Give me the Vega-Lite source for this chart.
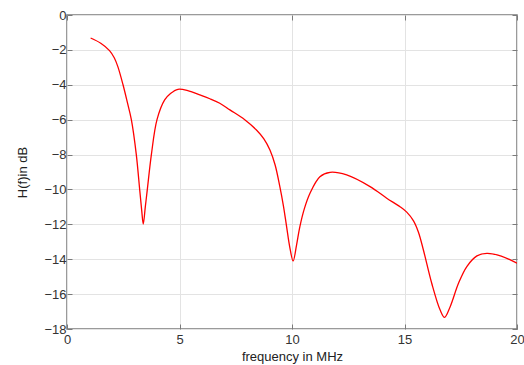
{
  "$schema": "https://vega.github.io/schema/vega-lite/v6.json",
  "width": 450,
  "height": 314,
  "autosize": "none",
  "padding": {"left": 67, "top": 15, "right": 7, "bottom": 36},
  "background": "white",
  "config": {
    "view": {"stroke": "#7a7a7a", "strokeWidth": 1.5},
    "font": "Liberation Sans"
  },
  "data": {"values": [
    {"f": 1.05, "h": -1.32},
    {"f": 1.5, "h": -1.62},
    {"f": 1.89, "h": -2.04},
    {"f": 2.1, "h": -2.45},
    {"f": 2.26, "h": -2.96},
    {"f": 2.49, "h": -4.0},
    {"f": 2.68, "h": -5.0},
    {"f": 2.86, "h": -6.0},
    {"f": 3.08, "h": -8.0},
    {"f": 3.23, "h": -10.0},
    {"f": 3.32, "h": -11.2},
    {"f": 3.39, "h": -11.98},
    {"f": 3.48, "h": -11.0},
    {"f": 3.57, "h": -10.0},
    {"f": 3.75, "h": -8.0},
    {"f": 4.0, "h": -6.0},
    {"f": 4.34, "h": -4.87},
    {"f": 4.6, "h": -4.5},
    {"f": 4.93, "h": -4.26},
    {"f": 5.4, "h": -4.35},
    {"f": 5.9, "h": -4.58},
    {"f": 6.35, "h": -4.8},
    {"f": 6.79, "h": -5.06},
    {"f": 7.24, "h": -5.44},
    {"f": 7.9, "h": -6.0},
    {"f": 8.42, "h": -6.59},
    {"f": 8.75, "h": -7.1},
    {"f": 9.02, "h": -7.74},
    {"f": 9.25, "h": -8.6},
    {"f": 9.46, "h": -9.84},
    {"f": 9.62, "h": -10.95},
    {"f": 9.76, "h": -12.13},
    {"f": 9.9, "h": -13.3},
    {"f": 10.05, "h": -14.1},
    {"f": 10.2, "h": -13.2},
    {"f": 10.35, "h": -12.13},
    {"f": 10.55, "h": -11.1},
    {"f": 10.8, "h": -10.22},
    {"f": 11.24, "h": -9.27},
    {"f": 11.69, "h": -9.02},
    {"f": 12.43, "h": -9.17},
    {"f": 13.47, "h": -9.84},
    {"f": 14.21, "h": -10.5},
    {"f": 14.8, "h": -10.99},
    {"f": 15.1, "h": -11.3},
    {"f": 15.4, "h": -11.8},
    {"f": 15.62, "h": -12.45},
    {"f": 15.84, "h": -13.47},
    {"f": 16.21, "h": -15.38},
    {"f": 16.58, "h": -16.9},
    {"f": 16.78, "h": -17.33},
    {"f": 17.03, "h": -16.72},
    {"f": 17.4, "h": -15.38},
    {"f": 17.77, "h": -14.42},
    {"f": 18.22, "h": -13.81},
    {"f": 18.66, "h": -13.66},
    {"f": 19.3, "h": -13.82},
    {"f": 20.0, "h": -14.23}
  ]},
  "resolve": {"axis": {"x": "independent", "y": "independent"}},
  "layer": [
    {
      "mark": {"type": "line", "color": "#ff0000", "strokeWidth": 1.3, "interpolate": "catmull-rom", "clip": true},
      "encoding": {
        "x": {
          "field": "f", "type": "quantitative",
          "scale": {"domain": [0, 20], "nice": false, "zero": false},
          "axis": {
            "values": [0, 5, 10, 15, 20],
            "title": "frequency in MHz",
            "titleFontSize": 13, "titleFontWeight": "normal", "titleColor": "#222",
            "titlePadding": 4,
            "labelFontSize": 13, "labelColor": "#333",
            "labelPadding": 9,
            "grid": true, "gridColor": "#e3e3e3", "gridWidth": 1,
            "domain": false, "ticks": true, "tickSize": -5, "tickColor": "#7a7a7a",
            "labelFlush": false
          }
        },
        "y": {
          "field": "h", "type": "quantitative",
          "scale": {"domain": [-18, 0], "nice": false, "zero": false},
          "axis": {
            "values": [0, -2, -4, -6, -8, -10, -12, -14, -16, -18],
            "title": "H(f)in dB",
            "titleFontSize": 13, "titleFontWeight": "normal", "titleColor": "#222",
            "titlePadding": 14,
            "labelFontSize": 13, "labelColor": "#333",
            "labelPadding": 6,
            "grid": true, "gridColor": "#e3e3e3", "gridWidth": 1,
            "domain": false, "ticks": true, "tickSize": -5, "tickColor": "#7a7a7a"
          }
        }
      }
    },
    {
      "mark": {"type": "line", "opacity": 0},
      "encoding": {
        "x": {
          "field": "f", "type": "quantitative",
          "scale": {"domain": [0, 20], "nice": false, "zero": false},
          "axis": {"orient": "top", "values": [0, 5, 10, 15, 20], "title": null, "labels": false, "grid": false, "domain": false, "ticks": true, "tickSize": -5, "tickColor": "#7a7a7a"}
        },
        "y": {
          "field": "h", "type": "quantitative",
          "scale": {"domain": [-18, 0], "nice": false, "zero": false},
          "axis": {"orient": "right", "values": [0, -2, -4, -6, -8, -10, -12, -14, -16, -18], "title": null, "labels": false, "grid": false, "domain": false, "ticks": true, "tickSize": -5, "tickColor": "#7a7a7a"}
        }
      }
    }
  ]
}
